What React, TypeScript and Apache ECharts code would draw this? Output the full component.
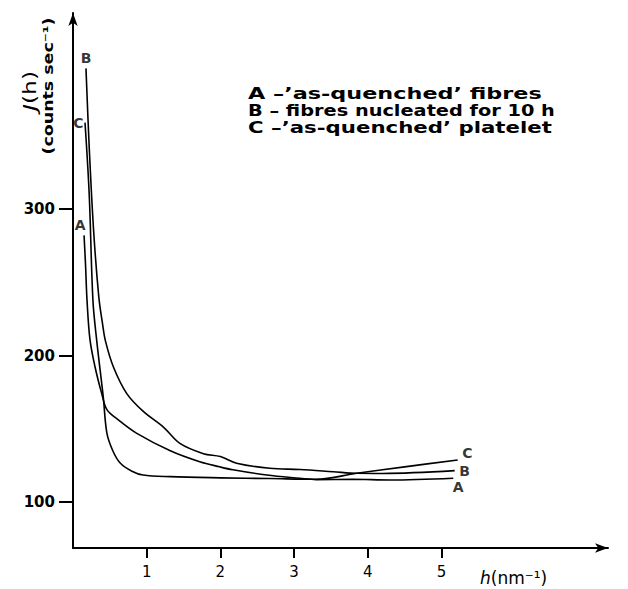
import React, { useEffect, useRef } from "react";
import * as echarts from "echarts";

// Curve data: [h (nm^-1), J(h) (counts/sec)]
const curveA: [number, number][] = [
  [0.15, 282], [0.17, 262], [0.19, 238], [0.23, 211], [0.30, 192], [0.39, 174],
  [0.46, 163], [0.59, 157], [0.86, 147], [1.32, 135], [1.72, 127.5], [1.99, 124],
  [2.17, 122], [2.63, 118.4], [3.08, 116.2], [3.3, 115.3], [3.8, 115.5], [4.3, 115],
  [5.16, 116.2],
];
const curveB: [number, number][] = [
  [0.176, 396], [0.222, 340], [0.28, 285], [0.35, 240], [0.40, 222], [0.44, 210],
  [0.55, 192], [0.73, 174], [0.95, 162], [1.23, 151], [1.45, 140], [1.77, 133],
  [2.0, 131], [2.22, 126.5], [2.67, 123], [3.08, 122.2], [3.53, 120.7], [3.85, 119.6],
  [4.2, 119.5], [5.18, 121.4],
];
const curveC: [number, number][] = [
  [0.163, 359], [0.22, 310], [0.27, 238], [0.32, 211], [0.41, 172], [0.46, 147],
  [0.54, 135], [0.64, 126.6], [0.8, 121], [0.95, 118.4], [1.32, 117.3], [2.0, 116.5],
  [2.67, 116], [3.3, 115.5], [3.85, 119.6], [4.5, 124], [5.22, 128.7],
];
const curveNames = ["A", "B", "C"];
const legendLines = [
  "A –’as-quenched’ fibres",
  "B – fibres nucleated for 10 h",
  "C –’as-quenched’ platelet",
];
const xTicks = [1, 2, 3, 4, 5];
const yTicks = [100, 200, 300];
const xRange = [0, 7.26];
const yRange = [68.6, 433.8];

const FONT = "DejaVu Sans";

function fitScale(text: string, font: string, target: number): number {
  const c = document.createElement("canvas").getContext("2d");
  if (!c) return 1;
  c.font = font;
  const w = c.measureText(text).width;
  return w > 0 ? target / w : 1;
}

export default function App() {
  const ref = useRef<HTMLDivElement>(null);
  useEffect(() => {
    if (!ref.current) return;
    const chart = echarts.init(ref.current, null, { renderer: "svg" });

    const line = (data: [number, number][]) => ({
      type: "line",
      data,
      showSymbol: false,
      smooth: 0.35,
      lineStyle: { color: "#000", width: 1.6 },
      z: 3,
    });

    const lab = (
      p: [number, number],
      name: string,
      position: string,
      offset: [number, number],
      distance = 4
    ) => ({
      value: p,
      label: {
        show: true,
        formatter: name,
        position,
        offset,
        distance,
        color: "#000",
        fontSize: 14,
        fontWeight: "bold",
        fontFamily: FONT,
      },
    });

    const curves = [curveA, curveB, curveC];
    const startPos: [string, [number, number]][] = [
      ["top", [-4, 1]],
      ["top", [0, 1]],
      ["left", [3, 0]],
    ];
    const endPos: [string, [number, number]][] = [
      ["bottom", [5, -3]],
      ["right", [0, 0]],
      ["right", [0, -7]],
    ];
    const labelData: any[] = [];
    curves.forEach((c, i) => {
      labelData.push(lab(c[0], curveNames[i], startPos[i][0], startPos[i][1]));
      labelData.push(lab(c[c.length - 1], curveNames[i], endPos[i][0], endPos[i][1]));
    });

    const legendFont = `bold 15px "${FONT}"`;
    const legendTargets = [294, 307, 304];
    const yName2 = "(counts sec⁻¹)";
    const yName2Scale = fitScale(yName2, `bold 14px "${FONT}"`, 137);

    chart.setOption({
      animation: false,
      backgroundColor: "#fff",
      grid: { left: 73, right: 20, top: 13, bottom: 41, containLabel: false },
      xAxis: {
        type: "value",
        min: xRange[0],
        max: xRange[1],
        axisLine: {
          show: true,
          symbol: ["none", "arrow"],
          symbolSize: [7, 13],
          lineStyle: { color: "#000", width: 2 },
        },
        axisTick: {
          show: true,
          inside: false,
          length: 10,
          customValues: xTicks,
          lineStyle: { color: "#000", width: 2 },
        },
        axisLabel: {
          show: true,
          customValues: xTicks,
          margin: 16,
          color: "#000",
          fontSize: 15,
          fontFamily: FONT,
        },
        splitLine: { show: false },
      },
      yAxis: {
        type: "value",
        min: yRange[0],
        max: yRange[1],
        axisLine: {
          show: true,
          symbol: ["none", "arrow"],
          symbolSize: [7, 13],
          lineStyle: { color: "#000", width: 2 },
        },
        axisTick: {
          show: true,
          inside: false,
          length: 14,
          customValues: yTicks,
          lineStyle: { color: "#000", width: 2 },
        },
        axisLabel: {
          show: true,
          customValues: yTicks,
          margin: 18,
          color: "#000",
          fontSize: 15,
          fontWeight: "bold",
          fontFamily: FONT,
        },
        splitLine: { show: false },
      },
      series: [
        line(curveA),
        line(curveB),
        line(curveC),
        {
          type: "scatter",
          data: labelData,
          symbolSize: 1,
          itemStyle: { color: "rgba(0,0,0,0)" },
          silent: true,
          z: 4,
        },
      ],
      graphic: [
        ...legendLines.map((t, i) => ({
          type: "text",
          x: 248,
          y: 93 + i * 17.5,
          scaleX: fitScale(t, legendFont, legendTargets[i]),
          style: {
            text: t,
            fontSize: 15,
            fontWeight: "bold",
            fontFamily: FONT,
            fill: "#000",
            textAlign: "left",
            align: "left",
            textVerticalAlign: "middle",
            verticalAlign: "middle",
          },
        })),
        {
          type: "text",
          x: 30,
          y: 91,
          rotation: Math.PI / 2,
          scaleX: 1.3,
          style: {
            text: "{i|J}(h)",
            fontSize: 18,
            fontFamily: FONT,
            fill: "#000",
            textAlign: "center",
            align: "center",
            textVerticalAlign: "middle",
            verticalAlign: "middle",
            rich: { i: { fontStyle: "italic", fontSize: 18, fontFamily: FONT } },
          },
        },
        {
          type: "text",
          x: 48,
          y: 86,
          rotation: Math.PI / 2,
          scaleX: yName2Scale,
          style: {
            text: yName2,
            fontSize: 14,
            fontWeight: "bold",
            fontFamily: FONT,
            fill: "#000",
            textAlign: "center",
            align: "center",
            textVerticalAlign: "middle",
            verticalAlign: "middle",
          },
        },
        {
          type: "text",
          x: 480,
          y: 578,
          style: {
            text: "{i|h}(nm⁻¹)",
            fontSize: 17,
            fontFamily: FONT,
            fill: "#000",
            textAlign: "left",
            align: "left",
            textVerticalAlign: "middle",
            verticalAlign: "middle",
            rich: { i: { fontStyle: "italic", fontSize: 17, fontFamily: FONT } },
          },
        },
      ],
    });
    return () => chart.dispose();
  }, []);
  return (
    <div
      ref={ref}
      style={{ position: "absolute", left: 0, top: 0, width: 628, height: 589 }}
    />
  );
}
